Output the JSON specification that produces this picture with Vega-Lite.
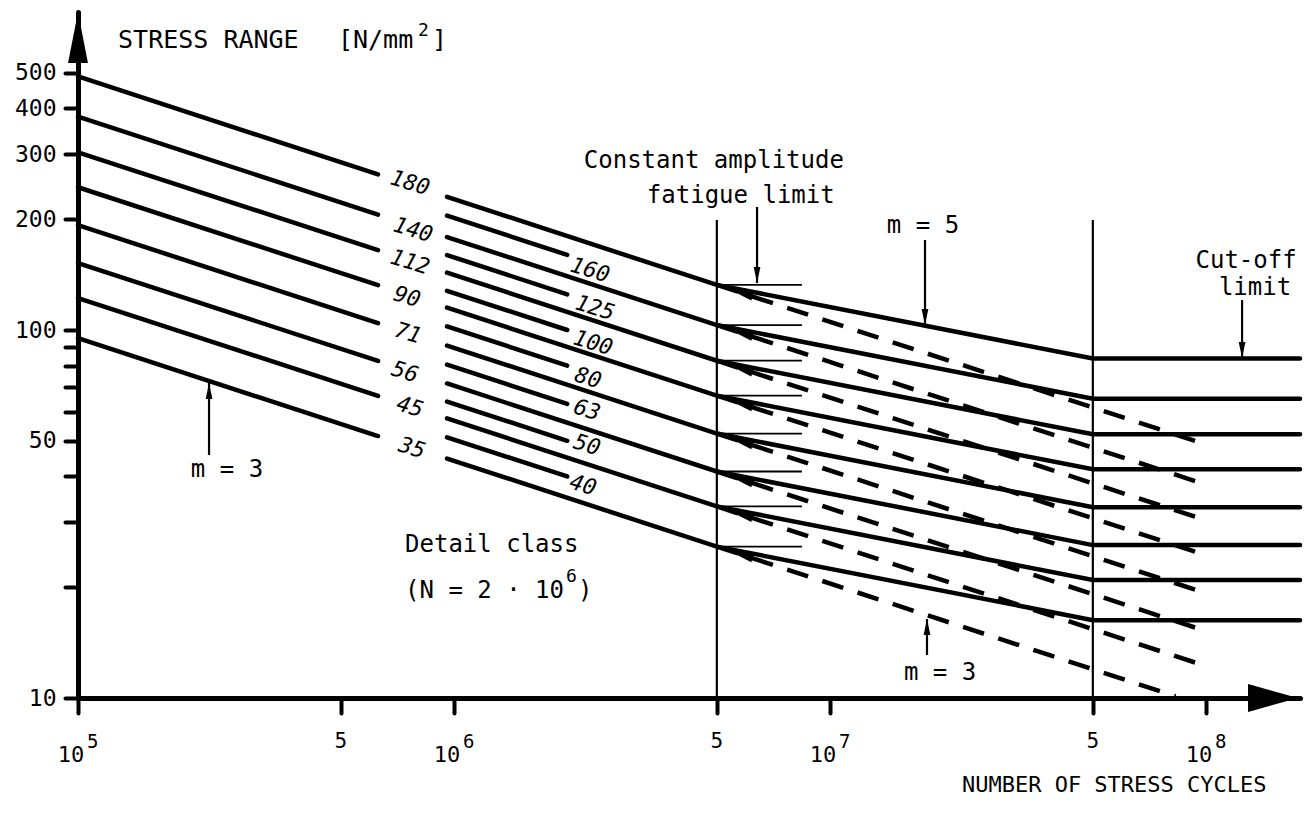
{
  "$schema": "https://vega.github.io/schema/vega-lite/v6.json",
  "width": 1222,
  "height": 686,
  "autosize": {"type": "none"},
  "padding": {"left": 78, "top": 12, "right": 10, "bottom": 119},
  "background": "white",
  "config": {"view": {"stroke": null}, "font": "DejaVu Sans Mono"},
  "datasets": {
    "thick": [
      {"id": "A180", "N": 100000, "S": 488.6}, {"id": "A180", "N": 627900, "S": 264.8},
      {"id": "A140", "N": 100000, "S": 380.0}, {"id": "A140", "N": 627900, "S": 205.9},
      {"id": "A112", "N": 100000, "S": 304.0}, {"id": "A112", "N": 627900, "S": 164.8},
      {"id": "A90", "N": 100000, "S": 244.3}, {"id": "A90", "N": 627900, "S": 132.4},
      {"id": "A71", "N": 100000, "S": 192.7}, {"id": "A71", "N": 627900, "S": 104.4},
      {"id": "A56", "N": 100000, "S": 152.0}, {"id": "A56", "N": 627900, "S": 82.4},
      {"id": "A45", "N": 100000, "S": 122.1}, {"id": "A45", "N": 627900, "S": 66.2},
      {"id": "A35", "N": 100000, "S": 95.0}, {"id": "A35", "N": 627900, "S": 51.5},
      {"id": "B180", "N": 958100, "S": 230.1}, {"id": "B180", "N": 5000000, "S": 132.6}, {"id": "B180", "N": 50000000, "S": 83.68}, {"id": "B180", "N": 177800000, "S": 83.68},
      {"id": "B140", "N": 958100, "S": 178.9}, {"id": "B140", "N": 5000000, "S": 103.15}, {"id": "B140", "N": 50000000, "S": 65.09}, {"id": "B140", "N": 177800000, "S": 65.09},
      {"id": "B112", "N": 958100, "S": 143.2}, {"id": "B112", "N": 5000000, "S": 82.52}, {"id": "B112", "N": 50000000, "S": 52.07}, {"id": "B112", "N": 177800000, "S": 52.07},
      {"id": "B90", "N": 958100, "S": 115.0}, {"id": "B90", "N": 5000000, "S": 66.31}, {"id": "B90", "N": 50000000, "S": 41.84}, {"id": "B90", "N": 177800000, "S": 41.84},
      {"id": "B71", "N": 958100, "S": 90.75}, {"id": "B71", "N": 5000000, "S": 52.31}, {"id": "B71", "N": 50000000, "S": 33.01}, {"id": "B71", "N": 177800000, "S": 33.01},
      {"id": "B56", "N": 958100, "S": 71.58}, {"id": "B56", "N": 5000000, "S": 41.26}, {"id": "B56", "N": 50000000, "S": 26.03}, {"id": "B56", "N": 177800000, "S": 26.03},
      {"id": "B45", "N": 958100, "S": 57.52}, {"id": "B45", "N": 5000000, "S": 33.16}, {"id": "B45", "N": 50000000, "S": 20.92}, {"id": "B45", "N": 177800000, "S": 20.92},
      {"id": "B35", "N": 958100, "S": 44.74}, {"id": "B35", "N": 5000000, "S": 25.79}, {"id": "B35", "N": 50000000, "S": 16.27}, {"id": "B35", "N": 177800000, "S": 16.27},
      {"id": "R160", "N": 958100, "S": 204.5}, {"id": "R160", "N": 2000000, "S": 160},
      {"id": "R125", "N": 958100, "S": 159.8}, {"id": "R125", "N": 2000000, "S": 125},
      {"id": "R100", "N": 958100, "S": 127.8}, {"id": "R100", "N": 2000000, "S": 100},
      {"id": "R80", "N": 958100, "S": 102.3}, {"id": "R80", "N": 2000000, "S": 80},
      {"id": "R63", "N": 958100, "S": 80.5}, {"id": "R63", "N": 2000000, "S": 63},
      {"id": "R50", "N": 958100, "S": 63.9}, {"id": "R50", "N": 2000000, "S": 50},
      {"id": "R40", "N": 958100, "S": 51.1}, {"id": "R40", "N": 2000000, "S": 40}
    ],
    "dashed": [
      {"id": "D180", "N": 5000000, "S": 132.6}, {"id": "D180", "N": 100000000, "S": 48.86},
      {"id": "D140", "N": 5000000, "S": 103.15}, {"id": "D140", "N": 100000000, "S": 38.0},
      {"id": "D112", "N": 5000000, "S": 82.52}, {"id": "D112", "N": 100000000, "S": 30.4},
      {"id": "D90", "N": 5000000, "S": 66.31}, {"id": "D90", "N": 100000000, "S": 24.43},
      {"id": "D71", "N": 5000000, "S": 52.31}, {"id": "D71", "N": 100000000, "S": 19.27},
      {"id": "D56", "N": 5000000, "S": 41.26}, {"id": "D56", "N": 100000000, "S": 15.2},
      {"id": "D45", "N": 5000000, "S": 33.16}, {"id": "D45", "N": 100000000, "S": 12.21},
      {"id": "D35", "N": 5000000, "S": 25.79}, {"id": "D35", "N": 83000000, "S": 10.11}
    ],
    "knees": [
      {"N": 5000000, "N2": 8420000, "S": 132.6, "S2": 132.6},
      {"N": 5000000, "N2": 8420000, "S": 103.15, "S2": 103.15},
      {"N": 5000000, "N2": 8420000, "S": 82.52, "S2": 82.52},
      {"N": 5000000, "N2": 8420000, "S": 66.31, "S2": 66.31},
      {"N": 5000000, "N2": 8420000, "S": 52.31, "S2": 52.31},
      {"N": 5000000, "N2": 8420000, "S": 41.26, "S2": 41.26},
      {"N": 5000000, "N2": 8420000, "S": 33.16, "S2": 33.16},
      {"N": 5000000, "N2": 8420000, "S": 25.79, "S2": 25.79}
    ],
    "verticals": [
      {"N": 5000000, "N2": 5000000, "S": 10, "S2": 199},
      {"N": 50000000, "N2": 50000000, "S": 10, "S2": 199},
      {"N": 223100, "N2": 223100, "S": 45.74, "S2": 71.8},
      {"N": 6396000, "N2": 6396000, "S": 215.9, "S2": 134.2},
      {"N": 17890000, "N2": 17890000, "S": 175.6, "S2": 103.2},
      {"N": 124700000, "N2": 124700000, "S": 120.6, "S2": 84.45},
      {"N": 18110000, "N2": 18110000, "S": 13.09, "S2": 16.39}
    ],
    "heads": [
      {"N": 223100, "S": 68.28, "dir": "up"},
      {"N": 18110000, "S": 15.59, "dir": "up"},
      {"N": 6396000, "S": 141.1, "dir": "down"},
      {"N": 17890000, "S": 108.5, "dir": "down"},
      {"N": 124700000, "S": 88.25, "dir": "down"}
    ],
    "wedges": [
      {"N": 5763000, "S": 126.5}, {"N": 5763000, "S": 98.4}, {"N": 5763000, "S": 78.7},
      {"N": 5763000, "S": 63.25}, {"N": 5763000, "S": 49.9}, {"N": 5763000, "S": 39.36},
      {"N": 5763000, "S": 31.63}, {"N": 5763000, "S": 24.6}
    ],
    "yarrow": [{"N": 100000, "S": 623.5}],
    "xarrow": [{"N": 150700000, "S": 10}],
    "classLabels": [
      {"c": "180", "N": 764000, "S": 250.9},
      {"c": "140", "N": 778000, "S": 187.0},
      {"c": "112", "N": 764000, "S": 153.0},
      {"c": "90", "N": 750000, "S": 123.0},
      {"c": "71", "N": 754500, "S": 98.1},
      {"c": "56", "N": 741000, "S": 76.9},
      {"c": "45", "N": 764000, "S": 61.8},
      {"c": "35", "N": 773000, "S": 47.8},
      {"c": "160", "N": 2300000, "S": 145.5},
      {"c": "125", "N": 2371000, "S": 114.8},
      {"c": "100", "N": 2343000, "S": 92.2},
      {"c": "80", "N": 2272000, "S": 74.06},
      {"c": "63", "N": 2258000, "S": 60.6},
      {"c": "50", "N": 2258000, "S": 48.7},
      {"c": "40", "N": 2203000, "S": 37.9}
    ],
    "titleLeft": [
      {"t": "STRESS RANGE", "N": 127800, "S": 584},
      {"t": "[N/mm", "N": 491300, "S": 584},
      {"t": "]", "N": 874000, "S": 584}
    ],
    "notesLeft": [
      {"t": "Detail class", "N": 741000, "S": 24.93},
      {"t": "(N = 2 · 10", "N": 741000, "S": 18.69},
      {"t": ")", "N": 2137000, "S": 18.69}
    ],
    "supers": [
      {"t": "2", "N": 802300, "S": 629.4},
      {"t": "6", "N": 1986000, "S": 20.66}
    ],
    "notesCenter": [
      {"t": "Constant amplitude", "N": 4910000, "S": 275.5},
      {"t": "fatigue limit", "N": 5790000, "S": 221.3},
      {"t": "m = 5", "N": 17670000, "S": 183.5},
      {"t": "Cut-off", "N": 127800000, "S": 147.4},
      {"t": "limit", "N": 135000000, "S": 124.5},
      {"t": "m = 3", "N": 249000, "S": 39.86},
      {"t": "m = 3", "N": 19620000, "S": 11.19}
    ],
    "xTitle": [
      {"t": "NUMBER OF STRESS CYCLES", "N": 57000000, "S": 5.554}
    ],
    "fives": [
      {"N": 500000, "S": 10, "t": "5"},
      {"N": 5000000, "S": 10, "t": "5"},
      {"N": 50000000, "S": 10, "t": "5"}
    ],
    "tens": [
      {"N": 100000, "S": 10, "t": "10", "e": "5"},
      {"N": 1000000, "S": 10, "t": "10", "e": "6"},
      {"N": 10000000, "S": 10, "t": "10", "e": "7"},
      {"N": 100000000, "S": 10, "t": "10", "e": "8"}
    ]
  },
  "encoding": {
    "x": {
      "field": "N", "type": "quantitative",
      "scale": {"type": "log", "domain": [100000, 177800000], "nice": false},
      "axis": {
        "values": [100000, 500000, 1000000, 5000000, 10000000, 50000000, 100000000],
        "labels": false, "title": null, "grid": false,
        "domainColor": "black", "domainWidth": 5, "domainCap": "round",
        "tickColor": "black", "tickWidth": 4, "tickSize": 15, "tickCap": "round"
      }
    },
    "y": {
      "field": "S", "type": "quantitative",
      "scale": {"type": "log", "domain": [10, 731.4], "nice": false},
      "axis": {
        "values": [10, 20, 30, 40, 50, 60, 70, 80, 90, 100, 200, 300, 400, 500],
        "labelExpr": "indexof([10, 50, 100, 200, 300, 400, 500], datum.value) >= 0 ? format(datum.value, 'd') : ''",
        "title": null, "grid": false,
        "domainColor": "black", "domainWidth": 5, "domainCap": "round",
        "tickColor": "black", "tickWidth": 4, "tickSize": 13, "tickCap": "round",
        "labelFont": "DejaVu Sans Mono", "labelFontSize": 23, "labelColor": "black", "labelPadding": 9
      }
    }
  },
  "layer": [
    {
      "data": {"name": "thick"},
      "mark": {"type": "line", "color": "black", "strokeWidth": 4.5, "strokeCap": "round"},
      "encoding": {"detail": {"field": "id"}}
    },
    {
      "data": {"name": "dashed"},
      "mark": {"type": "line", "color": "black", "strokeWidth": 4.5, "strokeDash": [22, 15], "strokeCap": "butt"},
      "encoding": {"detail": {"field": "id"}}
    },
    {
      "data": {"name": "knees"},
      "mark": {"type": "rule", "color": "black", "strokeWidth": 1.8},
      "encoding": {"x2": {"field": "N2"}, "y2": {"field": "S2"}}
    },
    {
      "data": {"name": "verticals"},
      "mark": {"type": "rule", "color": "black", "strokeWidth": 2.2},
      "encoding": {"x2": {"field": "N2"}, "y2": {"field": "S2"}}
    },
    {
      "data": {"name": "heads"},
      "mark": {"type": "point", "filled": true, "color": "black", "opacity": 1, "strokeWidth": 0, "size": 256},
      "encoding": {
        "shape": {"field": "dir", "type": "nominal", "legend": null,
          "scale": {"domain": ["up", "down"], "range": ["M0,-1L0.42,1L-0.42,1Z", "M0,1L0.42,-1L-0.42,-1Z"]}}
      }
    },
    {
      "data": {"name": "wedges"},
      "mark": {"type": "point", "filled": true, "color": "black", "opacity": 1, "strokeWidth": 0, "size": 700, "angle": 18, "shape": "M-1,0L1,-0.32L1,0.32Z"}
    },
    {
      "data": {"name": "yarrow"},
      "mark": {"type": "point", "filled": true, "color": "black", "opacity": 1, "strokeWidth": 0, "size": 2601, "shape": "M0,-1L0.39,1L-0.39,1Z"}
    },
    {
      "data": {"name": "xarrow"},
      "mark": {"type": "point", "filled": true, "color": "black", "opacity": 1, "strokeWidth": 0, "size": 2500, "shape": "M1,0L-1,-0.56L-1,0.56Z"}
    },
    {
      "data": {"name": "classLabels"},
      "mark": {"type": "text", "font": "DejaVu Sans Mono", "fontStyle": "italic", "fontSize": 22, "angle": 17, "align": "center", "baseline": "middle", "color": "black"},
      "encoding": {"text": {"field": "c"}}
    },
    {
      "data": {"name": "titleLeft"},
      "mark": {"type": "text", "font": "DejaVu Sans Mono", "fontSize": 25, "align": "left", "baseline": "alphabetic", "color": "black"},
      "encoding": {"text": {"field": "t"}}
    },
    {
      "data": {"name": "notesLeft"},
      "mark": {"type": "text", "font": "DejaVu Sans Mono", "fontSize": 24, "align": "left", "baseline": "alphabetic", "color": "black"},
      "encoding": {"text": {"field": "t"}}
    },
    {
      "data": {"name": "supers"},
      "mark": {"type": "text", "font": "DejaVu Sans Mono", "fontSize": 18, "align": "left", "baseline": "alphabetic", "color": "black"},
      "encoding": {"text": {"field": "t"}}
    },
    {
      "data": {"name": "notesCenter"},
      "mark": {"type": "text", "font": "DejaVu Sans Mono", "fontSize": 24, "align": "center", "baseline": "alphabetic", "color": "black"},
      "encoding": {"text": {"field": "t"}}
    },
    {
      "data": {"name": "xTitle"},
      "mark": {"type": "text", "font": "DejaVu Sans Mono", "fontSize": 22, "align": "center", "baseline": "alphabetic", "color": "black"},
      "encoding": {"text": {"field": "t"}}
    },
    {
      "data": {"name": "fives"},
      "mark": {"type": "text", "font": "DejaVu Sans Mono", "fontSize": 21, "align": "center", "baseline": "alphabetic", "dy": 50, "color": "black"},
      "encoding": {"text": {"field": "t"}}
    },
    {
      "data": {"name": "tens"},
      "mark": {"type": "text", "font": "DejaVu Sans Mono", "fontSize": 22, "align": "center", "baseline": "alphabetic", "dy": 64, "dx": -7, "color": "black"},
      "encoding": {"text": {"field": "t"}}
    },
    {
      "data": {"name": "tens"},
      "mark": {"type": "text", "font": "DejaVu Sans Mono", "fontSize": 19, "align": "left", "baseline": "alphabetic", "dy": 50, "dx": 9, "color": "black"},
      "encoding": {"text": {"field": "e"}}
    }
  ]
}
